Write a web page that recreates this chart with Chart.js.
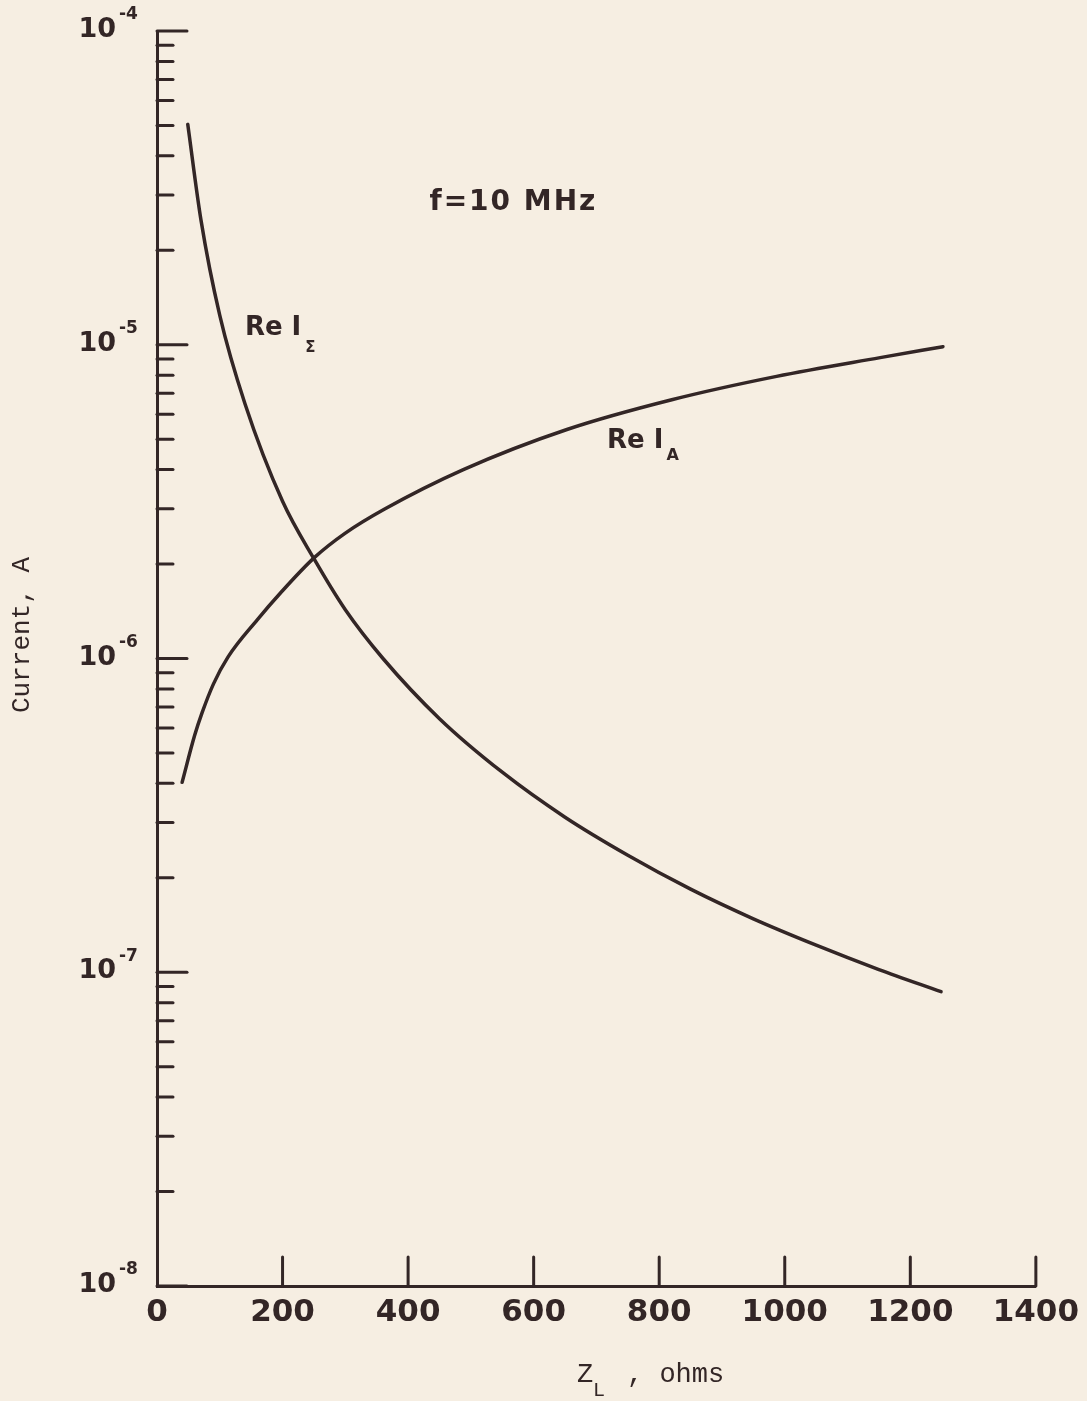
<!DOCTYPE html>
<html>
<head>
<meta charset="utf-8">
<title>Current vs load impedance, f = 10 MHz</title>
<script src="https://cdn.jsdelivr.net/npm/chart.js@4.4.0/dist/chart.umd.min.js"></script>
<style>
  html, body { margin: 0; padding: 0; background: #f6eee2; }
  #wrap { width: 1087px; height: 1401px; }
</style>
</head>
<body>
<div id="wrap"><canvas id="currentChart"></canvas></div>
<script>
// Z_L in ohms, currents in A
const zSigma = [49, 70, 100, 140, 200, 250, 300, 360, 450, 550, 650, 750, 850, 950, 1050, 1150, 1249];
const reISigma = [5.04e-5, 2.50e-5, 1.24e-5, 6.50e-6, 3.17e-6, 2.08e-6, 1.43e-6, 1.00e-6, 6.43e-7, 4.34e-7, 3.12e-7, 2.36e-7, 1.84e-7, 1.48e-7, 1.22e-7, 1.02e-7, 8.67e-8];

const zA = [40, 60, 72, 90, 113, 160, 197, 251, 300, 362, 488, 653, 820, 987, 1152, 1252];
const reIA = [4.03e-7, 5.69e-7, 6.73e-7, 8.30e-7, 1.01e-6, 1.33e-6, 1.62e-6, 2.10e-6, 2.51e-6, 2.99e-6, 4.00e-6, 5.37e-6, 6.68e-6, 7.93e-6, 9.10e-6, 9.86e-6];

const xTicks = [200, 400, 600, 800, 1000, 1200, 1400];
const decades = [-8, -7, -6, -5, -4];

const ink = '#332626';
const bold = size => 'bold ' + size + 'px "DejaVu Sans"';

// inward ticks, 10^n labels, axis titles and curve labels
const decor = {
  id: 'decor',
  afterDraw(chart) {
    const { ctx, chartArea: a, scales: { x, y } } = chart;
    const line = (x1, y1, x2, y2) => { ctx.beginPath(); ctx.moveTo(x1, y1); ctx.lineTo(x2, y2); ctx.stroke(); };
    ctx.save();
    ctx.strokeStyle = ink;
    ctx.fillStyle = ink;
    ctx.lineWidth = 3;
    ctx.lineCap = 'round';

    xTicks.forEach(v => {
      const px = x.getPixelForValue(v);
      line(px, a.bottom, px, a.bottom - 29);
    });

    decades.forEach(d => {
      const base = Math.pow(10, d);
      const py = y.getPixelForValue(base);
      line(a.left, py, a.left + 30, py);
      if (d < -4) {
        for (let m = 2; m <= 9; m++) {
          const pm = y.getPixelForValue(m * base);
          line(a.left, pm, a.left + 16, pm);
        }
      }
      ctx.textBaseline = 'middle';
      ctx.textAlign = 'right';
      ctx.font = bold(27);
      ctx.fillText('10', 116, py - 1);
      ctx.textAlign = 'left';
      ctx.font = bold(17);
      ctx.fillText('-' + (-d), 119, py - 16);
    });

    // y title
    ctx.save();
    ctx.translate(22, 635);
    ctx.rotate(-Math.PI / 2);
    ctx.textAlign = 'center';
    ctx.textBaseline = 'middle';
    ctx.font = '26px "Liberation Mono"';
    ctx.fillText('Current, A', 0, 0);
    ctx.restore();

    // x title
    ctx.textAlign = 'left';
    ctx.textBaseline = 'alphabetic';
    ctx.font = '27px "Liberation Mono"';
    ctx.fillText('Z', 577, 1382);
    ctx.fillText(', ohms', 627, 1382);
    ctx.font = '20px "Liberation Mono"';
    ctx.fillText('L', 593, 1396);

    // annotations at data positions
    ctx.textBaseline = 'middle';
    ctx.font = bold(28);
    ctx.letterSpacing = '2px';
    ctx.fillText('f=10 MHz', x.getPixelForValue(434), y.getPixelForValue(2.84e-5));
    ctx.letterSpacing = '0px';

    ctx.font = bold(26);
    let px = x.getPixelForValue(140), py = y.getPixelForValue(1.13e-5);
    ctx.fillText('Re I', px, py);
    let w = ctx.measureText('Re I').width;
    ctx.font = bold(15);
    ctx.fillText('\u03A3', px + w + 4, py + 20);

    ctx.font = bold(26);
    px = x.getPixelForValue(717);
    py = y.getPixelForValue(4.91e-6);
    ctx.fillText('Re I', px, py);
    w = ctx.measureText('Re I').width;
    ctx.font = bold(16);
    ctx.fillText('A', px + w + 3, py + 14);

    ctx.restore();
  }
};

const ctx = document.getElementById('currentChart').getContext('2d');

new Chart(ctx, {
  type: 'line',
  data: {
    datasets: [
      {
        label: 'Re I_\u03A3',
        data: zSigma.map((z, i) => ({ x: z, y: reISigma[i] })),
        borderColor: ink
      },
      {
        label: 'Re I_A',
        data: zA.map((z, i) => ({ x: z, y: reIA[i] })),
        borderColor: ink
      }
    ]
  },
  options: {
    responsive: true,
    maintainAspectRatio: false,
    animation: false,
    layout: { padding: { top: 31, right: 49, left: 0, bottom: 0 } },
    plugins: {
      legend: { display: false },
      tooltip: { enabled: false }
    },
    elements: {
      point: { radius: 0 },
      line: { borderWidth: 3.5, cubicInterpolationMode: 'monotone', borderCapStyle: 'round' }
    },
    scales: {
      x: {
        type: 'linear',
        min: 0,
        max: 1400,
        afterFit: s => { s.height = 115; },
        ticks: {
          stepSize: 200,
          padding: 8,
          maxRotation: 0,
          autoSkip: false,
          color: ink,
          font: { family: '"DejaVu Sans"', weight: 'bold', size: 31 },
          callback: v => String(v)
        },
        grid: { display: false, drawTicks: false },
        border: { color: ink, width: 3 }
      },
      y: {
        type: 'logarithmic',
        min: 1e-8,
        max: 1e-4,
        afterFit: s => { s.width = 157; },
        ticks: { display: false },
        grid: { display: false, drawTicks: false },
        border: { color: ink, width: 3 }
      }
    }
  },
  plugins: [decor]
});
</script>
</body>
</html>
